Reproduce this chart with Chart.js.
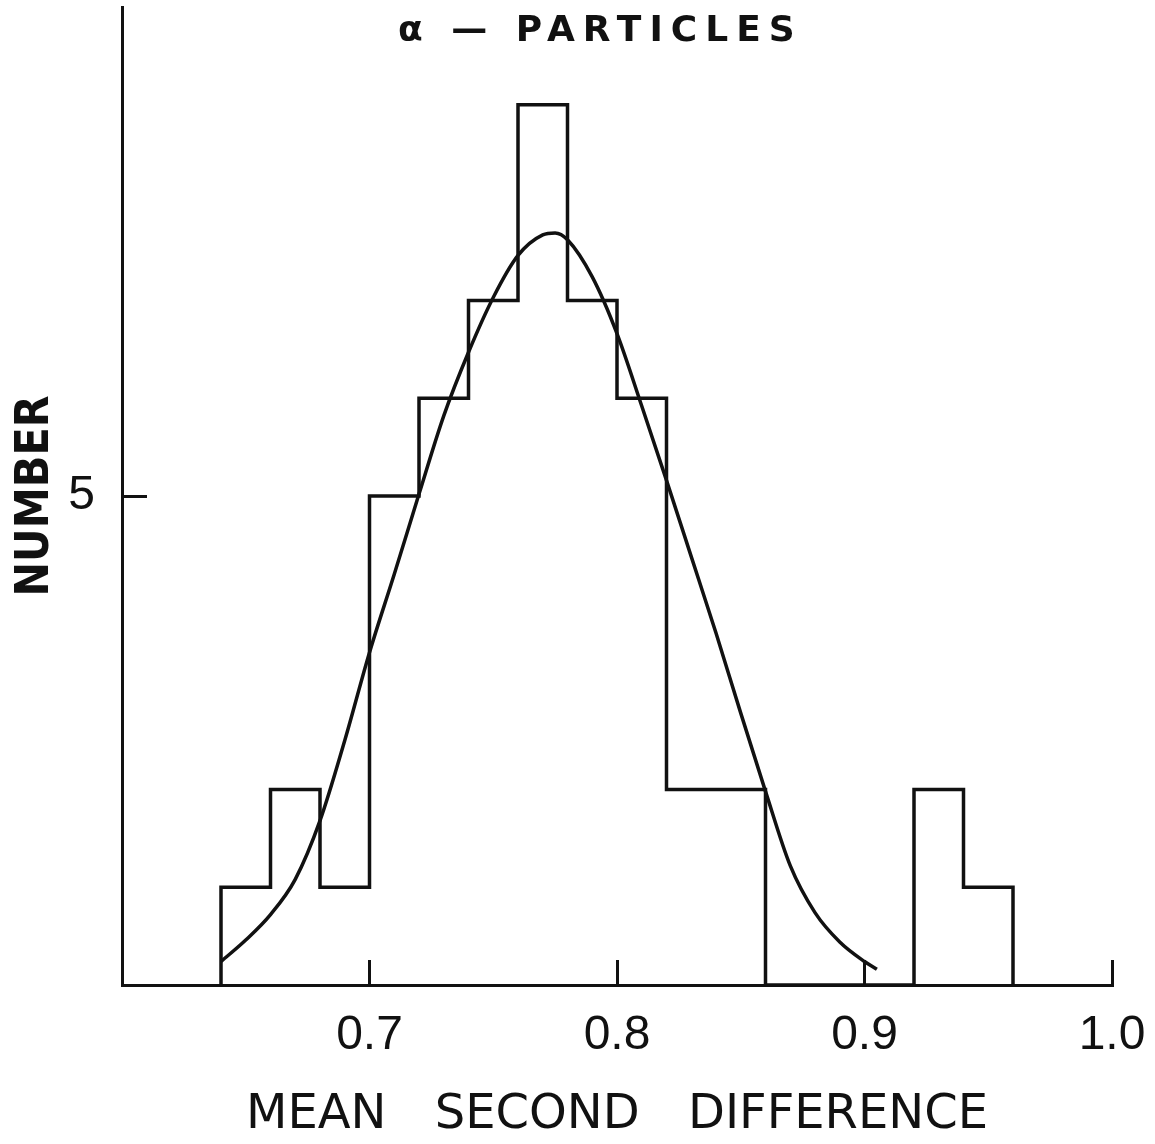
<!DOCTYPE html>
<html>
<head>
<meta charset="utf-8">
<script src="https://cdn.jsdelivr.net/npm/chart.js@4.4.1/dist/chart.umd.min.js"></script>
<style>
  html, body { margin: 0; padding: 0; background: #fff; }
</style>
</head>
<body>
<canvas id="histChart" width="1155" height="1144"></canvas>
<script>
// histogram: bin edges and number of tracks per bin
const binEdges = [0.64, 0.66, 0.68, 0.70, 0.72, 0.74, 0.76, 0.78, 0.80, 0.82, 0.84, 0.86, 0.88, 0.90, 0.92, 0.94, 0.96];
const binCounts = [1, 2, 1, 5, 6, 7, 9, 7, 6, 2, 2, 0, 0, 0, 2, 1];

// fitted curve
const curveX = [0.640, 0.650, 0.660, 0.670, 0.680, 0.690, 0.700, 0.710, 0.720, 0.730, 0.740, 0.750, 0.760, 0.770, 0.775,
                0.780, 0.790, 0.800, 0.810, 0.820, 0.830, 0.840, 0.850, 0.860, 0.870, 0.880, 0.890, 0.900, 0.905];
const curveY = [0.24, 0.46, 0.72, 1.08, 1.68, 2.50, 3.40, 4.20, 5.02, 5.82, 6.47, 7.03, 7.46, 7.67, 7.69,
                7.62, 7.24, 6.66, 5.92, 5.16, 4.38, 3.60, 2.78, 1.98, 1.22, 0.74, 0.44, 0.24, 0.16];

const xTicks = [0.7, 0.8, 0.9, 1.0];
const yTicks = [5];

const chartTitle = 'α — PARTICLES';
const xTitle = 'MEAN SECOND DIFFERENCE';
const yTitle = 'NUMBER';

// step outline: start at baseline, one point per bin, close at last edge
const stepData = [{ x: binEdges[0], y: 0 }]
    .concat(binCounts.map((c, i) => ({ x: binEdges[i], y: c })))
    .concat([{ x: binEdges[binEdges.length - 1], y: 0 }]);

const curveData = curveX.map((x, i) => ({ x: x, y: curveY[i] }));

const ink = '#111';

// title sits inside the plot area, so draw it ourselves
const titlePlugin = {
    id: 'plotTitle',
    beforeDraw(chart) {
        chart.ctx.wordSpacing = '33px';
    },
    afterDraw(chart) {
        const ctx = chart.ctx;
        ctx.save();
        ctx.wordSpacing = '0px';
        ctx.letterSpacing = '8px';
        ctx.font = 'bold 36px "DejaVu Sans"';
        ctx.fillStyle = ink;
        ctx.textAlign = 'left';
        ctx.textBaseline = 'alphabetic';
        ctx.fillText(chartTitle, 398, 41);
        ctx.restore();
    }
};

new Chart(document.getElementById('histChart'), {
    type: 'line',
    data: {
        datasets: [
            {
                label: 'Histogram',
                data: stepData,
                stepped: 'before',
                borderColor: ink,
                borderWidth: 3.5,
                borderJoinStyle: 'miter',
                pointRadius: 0,
                fill: false,
                clip: 4
            },
            {
                label: 'Fit',
                data: curveData,
                cubicInterpolationMode: 'monotone',
                borderColor: ink,
                borderWidth: 3.5,
                pointRadius: 0,
                fill: false,
                clip: 4
            }
        ]
    },
    options: {
        responsive: false,
        animation: false,
        layout: { padding: { top: 7, right: 43, left: 0, bottom: 0 } },
        plugins: {
            legend: { display: false },
            tooltip: { enabled: false }
        },
        scales: {
            x: {
                type: 'linear',
                min: 0.6,
                max: 1.0,
                afterBuildTicks: axis => { axis.ticks = xTicks.map(v => ({ value: v })); },
                afterFit: axis => {
                    axis.height = 159;
                    axis.paddingLeft = 0;
                    axis.paddingRight = 0;
                },
                ticks: {
                    callback: v => v.toFixed(1),
                    font: { family: '"Liberation Sans"', size: 48 },
                    color: ink,
                    padding: 47,
                    maxRotation: 0,
                    autoSkip: false
                },
                grid: { drawOnChartArea: false, drawTicks: true, tickLength: -25, tickWidth: 3, tickColor: ink },
                border: { color: ink, width: 3 },
                title: {
                    display: true,
                    text: xTitle,
                    font: { family: '"DejaVu Sans"', size: 48 },
                    color: ink,
                    padding: 0
                }
            },
            y: {
                min: 0,
                max: 10,
                afterBuildTicks: axis => { axis.ticks = yTicks.map(v => ({ value: v })); },
                afterFit: axis => {
                    axis.width = 122;
                    axis.paddingTop = 0;
                    axis.paddingBottom = 0;
                },
                ticks: {
                    font: { family: '"Liberation Sans"', size: 48 },
                    color: ink,
                    padding: 52
                },
                grid: { drawOnChartArea: false, drawTicks: true, tickLength: -25, tickWidth: 3, tickColor: ink },
                border: { color: ink, width: 3 },
                title: {
                    display: true,
                    text: yTitle,
                    font: { family: '"DejaVu Sans Condensed", "DejaVu Sans"', size: 46, weight: 'bold' },
                    color: ink,
                    padding: { top: 8, bottom: 0 }
                }
            }
        }
    },
    plugins: [titlePlugin]
});
</script>
</body>
</html>
